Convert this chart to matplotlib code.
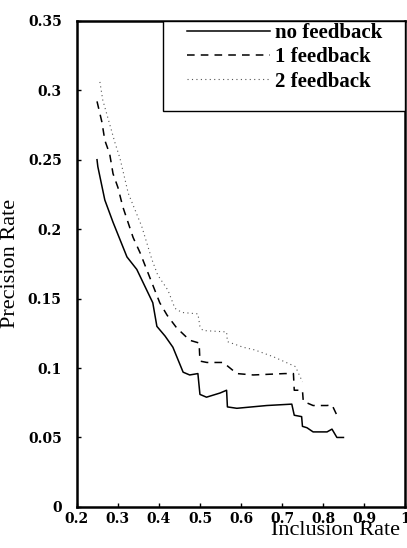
import matplotlib
matplotlib.use("Agg")
import matplotlib.pyplot as plt
from matplotlib.patches import Rectangle

# data
no_fb_x = [0.249, 0.251, 0.268, 0.288, 0.322, 0.346, 0.385, 0.395, 0.415, 0.434, 0.459, 0.475,
           0.495, 0.500, 0.516, 0.549, 0.565, 0.567, 0.590, 0.663, 0.724, 0.730, 0.748, 0.750,
           0.761, 0.776, 0.810, 0.822, 0.834, 0.850]
no_fb_y = [0.250, 0.245, 0.221, 0.205, 0.180, 0.171, 0.147, 0.130, 0.123, 0.115, 0.097, 0.095,
           0.096, 0.081, 0.079, 0.082, 0.084, 0.072, 0.071, 0.073, 0.074, 0.066, 0.065, 0.058,
           0.057, 0.054, 0.054, 0.056, 0.050, 0.050]

fb1_x = [0.249, 0.261, 0.268, 0.280, 0.288, 0.300, 0.312, 0.337, 0.354, 0.370, 0.402, 0.420,
         0.443, 0.475, 0.498, 0.500, 0.517, 0.557, 0.565, 0.590, 0.630, 0.707, 0.728, 0.730,
         0.750, 0.752, 0.776, 0.810, 0.822, 0.834]
fb1_y = [0.292, 0.277, 0.264, 0.254, 0.240, 0.230, 0.216, 0.194, 0.183, 0.171, 0.147, 0.138,
         0.129, 0.120, 0.118, 0.105, 0.104, 0.104, 0.102, 0.096, 0.095, 0.096, 0.096, 0.084,
         0.084, 0.076, 0.073, 0.073, 0.0735, 0.066]

fb2_x = [0.256, 0.263, 0.293, 0.305, 0.325, 0.358, 0.383, 0.397, 0.422, 0.439, 0.456, 0.495,
         0.500, 0.507, 0.565, 0.567, 0.605, 0.634, 0.680, 0.733, 0.750]
fb2_y = [0.306, 0.293, 0.262, 0.251, 0.226, 0.202, 0.178, 0.167, 0.156, 0.143, 0.140, 0.139,
         0.130, 0.127, 0.126, 0.119, 0.115, 0.113, 0.108, 0.101, 0.090]

labels = ["no feedback", "1 feedback", "2 feedback"]
xticks = [0.2, 0.3, 0.4, 0.5, 0.6, 0.7, 0.8, 0.9, 1.0]
xticklabels = ["0.2", "0.3", "0.4", "0.5", "0.6", "0.7", "0.8", "0.9", "1"]
yticks = [0, 0.05, 0.1, 0.15, 0.2, 0.25, 0.3, 0.35]
yticklabels = ["0", "0.05", "0.1", "0.15", "0.2", "0.25", "0.3", "0.35"]

plt.rcParams["font.family"] = ["Liberation Serif", "DejaVu Serif"]

fig = plt.figure(figsize=(4.07, 5.48), dpi=100)
ax = fig.add_axes([0.189, 0.075, 0.806, 0.887])

ax.plot(no_fb_x, no_fb_y, color="black", lw=1.1, label=labels[0])
ax.plot(fb1_x, fb1_y, color="black", lw=1.1, ls=(0, (5, 4)), label=labels[1])
ax.plot(fb2_x, fb2_y, color="#555555", lw=0.8, ls=(0, (1, 3)), label=labels[2])

ax.set_xlim(0.2, 1.0)
ax.set_ylim(0, 0.35)
ax.set_xticks(xticks)
ax.set_xticklabels(xticklabels, fontsize=10, fontweight="bold", family="DejaVu Serif")
ax.set_yticks(yticks)
ax.set_yticklabels(yticklabels, fontsize=10, fontweight="bold", family="DejaVu Serif")
ax.tick_params(direction="in", length=3, width=1)
ax.tick_params(axis="x", pad=4)
ax.tick_params(axis="y", pad=11)

for s in ax.spines.values():
    s.set_linewidth(1.8)

ax.set_ylabel("Precision Rate", fontsize=16)
ax.yaxis.set_label_coords(-0.175, 0.5)
ax.set_xlabel("Inclusion Rate", fontsize=16)
ax.xaxis.set_label_coords(0.787, -0.03)

# legend box drawn by hand, entries placed inside it
ax.add_patch(Rectangle((0.262, 0.815), 0.738, 0.185, transform=ax.transAxes,
                       facecolor="white", edgecolor="black", lw=1.0, zorder=3))
leg = ax.legend(loc="upper left", bbox_to_anchor=(0.335, 0.995), fontsize=15, handlelength=4.0,
                handletextpad=0.25, labelspacing=0.2, borderpad=0, frameon=False,
                borderaxespad=0)
leg.set_zorder(4)
for t in leg.get_texts():
    t.set_fontweight("bold")

fig.savefig("out.png", dpi=100)
